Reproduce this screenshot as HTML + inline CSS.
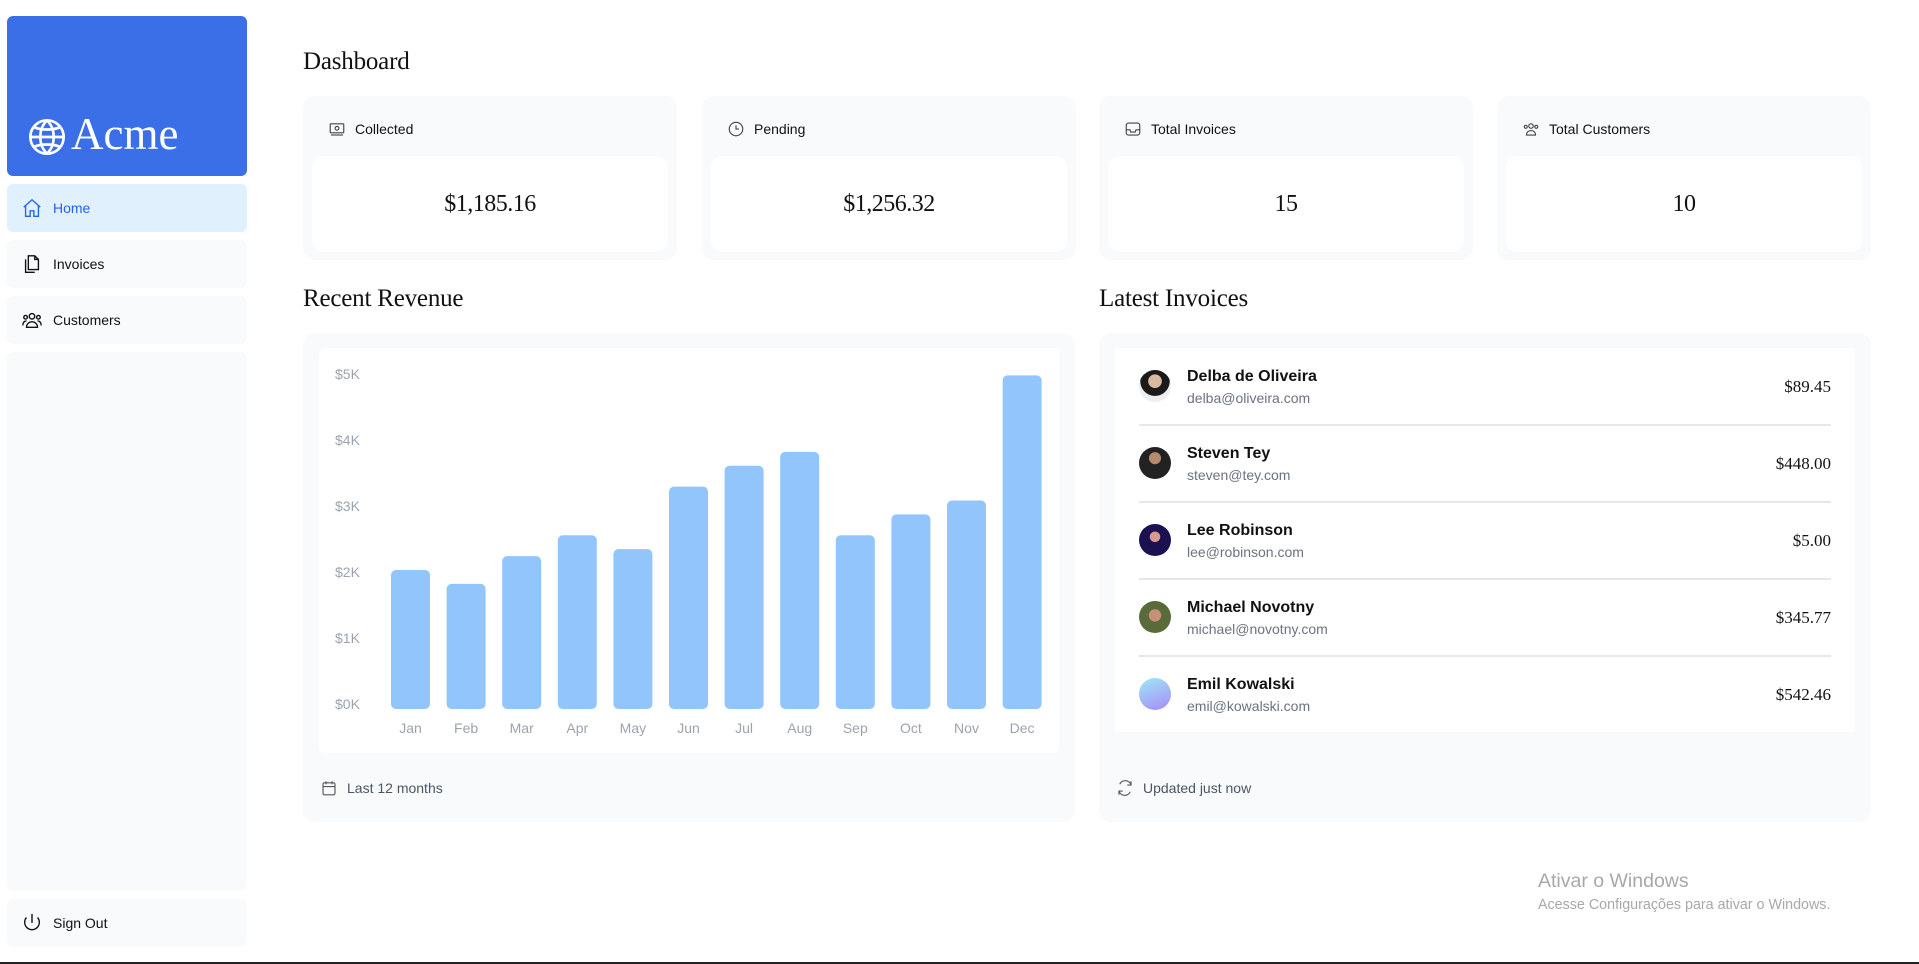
<!DOCTYPE html>
<html><head><meta charset="utf-8"><style>
*{box-sizing:border-box;margin:0;padding:0}
body{width:1919px;height:964px;background:#fff;position:relative;overflow:hidden;font-family:"Liberation Sans",sans-serif;color:#111}
.abs{position:absolute}
.serif{font-family:"Liberation Serif",serif}
.nav{position:absolute;left:7px;width:240px;background:#f9fafb;border-radius:6px;display:flex;align-items:center;padding-left:14px;font-size:14px}
.nav svg{margin-right:10px}
.card{position:absolute;top:96px;width:374px;height:164px;background:#f9fafb;border-radius:12px}
.card .hd{position:absolute;left:25px;top:24px;font-size:14px;display:flex;align-items:center}
.card .hd svg{margin-right:9px}
.card .in{position:absolute;left:9px;right:9px;top:60px;height:96px;background:#fff;border-radius:12px;display:flex;align-items:center;justify-content:center;font-family:"Liberation Serif",serif;font-size:24px;letter-spacing:-0.5px}
h1,h2{position:absolute;font-family:"Liberation Serif",serif;font-weight:normal;font-size:25px;letter-spacing:-0.2px}
.row{position:absolute;left:1139px;width:692px;height:77px}
.row .av{position:absolute;left:0;top:23px;width:32px;height:32px;border-radius:50%}
.row .nm{position:absolute;left:48px;top:21px;font-size:16px;font-weight:bold}
.row .em{position:absolute;left:48px;top:43px;font-size:14px;color:#6b7280}
.row .amt{position:absolute;right:0;top:30px;font-family:"Liberation Serif",serif;font-size:17px}
.sep{position:absolute;left:0;right:0;top:0;border-top:2px solid #e5e7eb}
</style></head><body>
<div class="abs" style="left:7px;top:16px;width:240px;height:160px;background:#3b6fe8;border-radius:6px">
 <svg class="abs" style="left:20px;top:101px" width="40" height="40" viewBox="0 0 24 24" fill="none" stroke="#fff" stroke-width="1.6"><circle cx="12" cy="12" r="10"/><path d="M2 12h20M12 2c3 3 4 6 4 10s-1 7-4 10M12 2c-3 3-4 6-4 10s1 7 4 10M4 6c4 2 12 2 16 0M4 18c4-2 12-2 16 0"/></svg>
 <div class="abs serif" style="left:64px;top:92px;font-size:45px;color:#fff">Acme</div>
</div>
<div class="nav" style="top:184px;height:48px;background:#e0f0fd;color:#2563eb"><svg width="22" height="22" viewBox="0 0 24 24" fill="none" stroke="#2563eb" stroke-width="1.5"><path d="M3 11l9-8 9 8M5 9v12h5v-6h4v6h5V9"/></svg>Home</div>
<div class="nav" style="top:240px;height:48px"><svg width="22" height="22" viewBox="0 0 24 24" fill="none" stroke="#111" stroke-width="1.5"><path d="M8 3h7l4 4v11H8zM15 3v4h4M5 7v14h10"/></svg>Invoices</div>
<div class="nav" style="top:296px;height:48px"><svg width="22" height="22" viewBox="0 0 24 24" fill="none" stroke="#111" stroke-width="1.5"><circle cx="12" cy="8" r="3"/><circle cx="5" cy="9" r="2"/><circle cx="19" cy="9" r="2"/><path d="M6 20c0-4 3-6 6-6s6 2 6 6zM2 18c0-3 1-5 4-5M22 18c0-3-1-5-4-5"/></svg>Customers</div>
<div class="nav" style="top:352px;height:539px"></div>
<div class="nav" style="top:899px;height:48px"><svg width="22" height="22" viewBox="0 0 24 24" fill="none" stroke="#111" stroke-width="1.5"><path d="M12 2v10M6 6a8 8 0 1 0 12 0"/></svg>Sign Out</div>

<h1 style="left:303px;top:48px">Dashboard</h1>
<div class="card" style="left:303px"><div class="hd"><svg width="18" height="18" viewBox="0 0 24 24" fill="none" stroke="#444" stroke-width="1.5"><rect x="3" y="5" width="18" height="12" rx="1"/><circle cx="12" cy="11" r="2.5"/><path d="M4 20h16"/></svg>Collected</div><div class="in">$1,185.16</div></div>
<div class="card" style="left:702px"><div class="hd"><svg width="18" height="18" viewBox="0 0 24 24" fill="none" stroke="#444" stroke-width="1.5"><circle cx="12" cy="12" r="9"/><path d="M12 7v5h4"/></svg>Pending</div><div class="in">$1,256.32</div></div>
<div class="card" style="left:1099px"><div class="hd"><svg width="18" height="18" viewBox="0 0 24 24" fill="none" stroke="#444" stroke-width="1.5"><rect x="3" y="4" width="18" height="16" rx="3"/><path d="M3 13h5l1 3h6l1-3h5"/></svg>Total Invoices</div><div class="in">15</div></div>
<div class="card" style="left:1497px"><div class="hd"><svg width="18" height="18" viewBox="0 0 24 24" fill="none" stroke="#444" stroke-width="1.5"><circle cx="12" cy="8" r="3"/><circle cx="5" cy="9" r="2"/><circle cx="19" cy="9" r="2"/><path d="M6 20c0-4 3-6 6-6s6 2 6 6z"/></svg>Total Customers</div><div class="in">10</div></div>

<h2 style="left:303px;top:285px">Recent Revenue</h2>
<h2 style="left:1099px;top:285px">Latest Invoices</h2>

<div class="abs" style="left:303px;top:333px;width:772px;height:489px;background:#f9fafb;border-radius:12px"></div>
<div class="abs" style="left:319px;top:348px;width:740px;height:405px;background:#fff;border-radius:6px"></div>
<svg class="abs" id="chart" style="left:0;top:0" width="1919" height="964"></svg>
<div class="abs" style="left:320px;top:779px;font-size:14px;color:#4b5563;display:flex;align-items:center"><svg width="18" height="18" viewBox="0 0 24 24" fill="none" stroke="#555" stroke-width="1.5" style="margin-right:9px"><rect x="4" y="5" width="16" height="16" rx="2"/><path d="M4 10h16M8 3v4M16 3v4"/></svg>Last 12 months</div>

<div class="abs" style="left:1099px;top:333px;width:772px;height:489px;background:#f9fafb;border-radius:12px"></div>
<div class="abs" style="left:1115px;top:348px;width:740px;height:384px;background:#fff"></div>
<div class="row" style="top:347px"><div class="av" style="background:radial-gradient(circle at 50% 35%,#d9b9a0 0 25%,#1a1a1a 27% 55%,#eee 57%)"></div><div class="nm">Delba de Oliveira</div><div class="em">delba@oliveira.com</div><div class="amt">$89.45</div></div>
<div class="row" style="top:424px"><div class="sep"></div><div class="av" style="background:radial-gradient(circle at 50% 35%,#b58a6e 0 22%,#222 24%)"></div><div class="nm">Steven Tey</div><div class="em">steven@tey.com</div><div class="amt">$448.00</div></div>
<div class="row" style="top:501px"><div class="sep"></div><div class="av" style="background:radial-gradient(circle at 50% 40%,#d89a8a 0 20%,#1b1050 22%)"></div><div class="nm">Lee Robinson</div><div class="em">lee@robinson.com</div><div class="amt">$5.00</div></div>
<div class="row" style="top:578px"><div class="sep"></div><div class="av" style="background:radial-gradient(circle at 50% 45%,#c8907a 0 25%,#5a6a3a 27%)"></div><div class="nm">Michael Novotny</div><div class="em">michael@novotny.com</div><div class="amt">$345.77</div></div>
<div class="row" style="top:655px"><div class="sep"></div><div class="av" style="background:linear-gradient(160deg,#9ee8f5,#a78bfa)"></div><div class="nm">Emil Kowalski</div><div class="em">emil@kowalski.com</div><div class="amt">$542.46</div></div>
<div class="abs" style="left:1116px;top:779px;font-size:14px;color:#4b5563;display:flex;align-items:center"><svg width="18" height="18" viewBox="0 0 24 24" fill="none" stroke="#555" stroke-width="1.5" style="margin-right:9px"><path d="M20 8a8 8 0 0 0-15-1M4 16a8 8 0 0 0 15 1M20 3v5h-5M4 21v-5h5"/></svg>Updated just now</div>

<div class="abs" style="left:1538px;top:870px;font-size:19.5px;color:#a8a8a8">Ativar o Windows</div>
<div class="abs" style="left:1538px;top:897px;font-size:14.3px;color:#a8a8a8">Acesse Configurações para ativar o Windows.</div>
<div class="abs" style="left:0;top:962px;width:1919px;height:2px;background:#222"></div>

<script>
const months=["Jan","Feb","Mar","Apr","May","Jun","Jul","Aug","Sep","Oct","Nov","Dec"];
const revenue=[2000,1800,2200,2500,2300,3200,3500,3700,2500,2800,3000,4800];
const yTicks=["$5K","$4K","$3K","$2K","$1K","$0K"];
const svg=document.getElementById('chart');
const NS='http://www.w3.org/2000/svg';
const base=709, pxPer=0.0695, x0=391, pitch=55.6, bw=39;
function xPos(i){return x0+i*pitch;}
function yH(v){return v*pxPer;}
function tickY(i){return 374+i*(704-374)/(yTicks.length-1);}
yTicks.forEach((t,i)=>{
 const e=document.createElementNS(NS,'text');
 
 
 e.setAttribute('x',335);e.setAttribute('y',tickY(i)+5);
 e.setAttribute('font-size','14');e.setAttribute('fill','#9ca3af');
 e.setAttribute('font-family','Liberation Sans, sans-serif');
 e.textContent=t;svg.appendChild(e);
});
revenue.forEach((v,i)=>{
 const r=document.createElementNS(NS,'rect');
 
 
 const h=yH(v);
 r.setAttribute('x',xPos(i));r.setAttribute('y',base-h);
 r.setAttribute('width',bw);r.setAttribute('height',h);
 r.setAttribute('rx',5);r.setAttribute('fill','#93c5fd');
 svg.appendChild(r);
 const t=document.createElementNS(NS,'text');
 
 
 t.setAttribute('x',xPos(i)+bw/2);t.setAttribute('y',733);
 t.setAttribute('text-anchor','middle');t.setAttribute('font-size','14');
 t.setAttribute('fill','#9ca3af');t.setAttribute('font-family','Liberation Sans, sans-serif');
 t.textContent=months[i];svg.appendChild(t);
});
</script>
</body></html>
